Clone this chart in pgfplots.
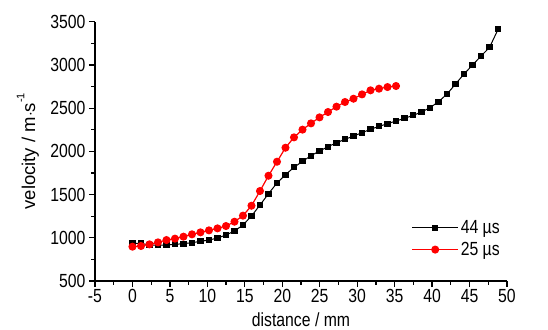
\documentclass[border=0pt]{standalone}
\usepackage{fontspec}
\setmainfont[FakeStretch=0.83]{Liberation Sans}
\newfontfamily\plainfont{Liberation Sans}
\usepackage{pgfplots}
\pgfplotsset{compat=1.18}
\begin{document}
\begin{tikzpicture}
\begin{axis}[
  scale only axis,
  width=412bp, height=259.3bp,
  xmin=-5, xmax=50, ymin=500, ymax=3500,
  axis lines*=left,
  axis line style={line width=1.2bp},
  xtick={-5,0,...,50}, ytick={500,1000,...,3500},
  minor tick num=1,
  tick align=outside,
  major tick length=6bp, minor tick length=3.5bp,
  every tick/.style={line width=1.2bp, black},
  /pgf/number format/assume math mode=true,
  /pgf/number format/1000 sep={},
  tick label style={font=\fontsize{19bp}{20bp}\selectfont},
  xticklabel style={yshift=1bp},
  xlabel={distance / mm},
  ylabel={velocity / m$\cdot$s\raisebox{1.1ex}{\fontsize{11bp}{12bp}\selectfont -1}},
  xlabel style={font=\fontsize{19bp}{20bp}\selectfont, at={([yshift=-39bp]axis description cs:0.5,0)}, anchor=center},
  ylabel style={font=\plainfont\fontsize{18.5bp}{20bp}\selectfont, at={([xshift=-67bp]axis description cs:0,0.5)}, anchor=center, rotate=0},
  legend style={draw=none, fill=none, font=\fontsize{19bp}{20bp}\selectfont,
    at={(0.99,0.245)}, anchor=north east, row sep=3bp, inner sep=1bp},
  legend cell align=left,
  legend image code/.code={\draw[mark repeat=2,mark phase=2] plot coordinates {(0bp,0bp) (23bp,0bp) (46bp,0bp)};},
]
\addplot[black, line width=1bp, mark=square*, mark size=2.6bp, mark options={solid}] coordinates {
(0,936) (1.135,936) (2.27,916) (3.405,916) (4.54,916) (5.675,924) (6.81,932) (7.945,943) (9.08,959) (10.215,974)
(11.35,997) (12.485,1032) (13.62,1078) (14.755,1148) (15.89,1252) (17.025,1379) (18.16,1510) (19.295,1634) (20.43,1730) (21.565,1815)
(22.7,1884) (23.835,1950) (24.97,2004) (26.105,2054) (27.24,2100) (28.375,2139) (29.51,2177) (30.645,2216) (31.78,2255) (32.915,2289)
(34.05,2320) (35.185,2351) (36.32,2382) (37.455,2416) (38.59,2455) (39.725,2505) (40.86,2575) (41.995,2663) (43.13,2779) (44.265,2895)
(45.4,2999) (46.535,3103) (47.67,3203) (48.805,3411)
};
\addlegendentry{44 µs}
\addplot[red, line width=1.2bp, mark=*, mark size=3.4bp, mark options={solid}] coordinates {
(0,897) (1.135,905) (2.27,924) (3.405,947) (4.54,974) (5.675,990) (6.81,1013) (7.945,1040) (9.08,1063) (10.215,1086)
(11.35,1109) (12.485,1136) (13.62,1186) (14.755,1256) (15.89,1371) (17.025,1541) (18.16,1718) (19.295,1880) (20.43,2042) (21.565,2162)
(22.7,2251) (23.835,2324) (24.97,2393) (26.105,2455) (27.24,2517) (28.375,2571) (29.51,2609) (30.645,2659) (31.78,2706) (32.915,2725)
(34.05,2744) (35.185,2756)
};
\addlegendentry{25 µs}
\end{axis}
\pgfresetboundingbox
\path (current axis.south west) ++(-95bp,-49bp) rectangle ++(548bp,330bp);
\end{tikzpicture}
\end{document}
